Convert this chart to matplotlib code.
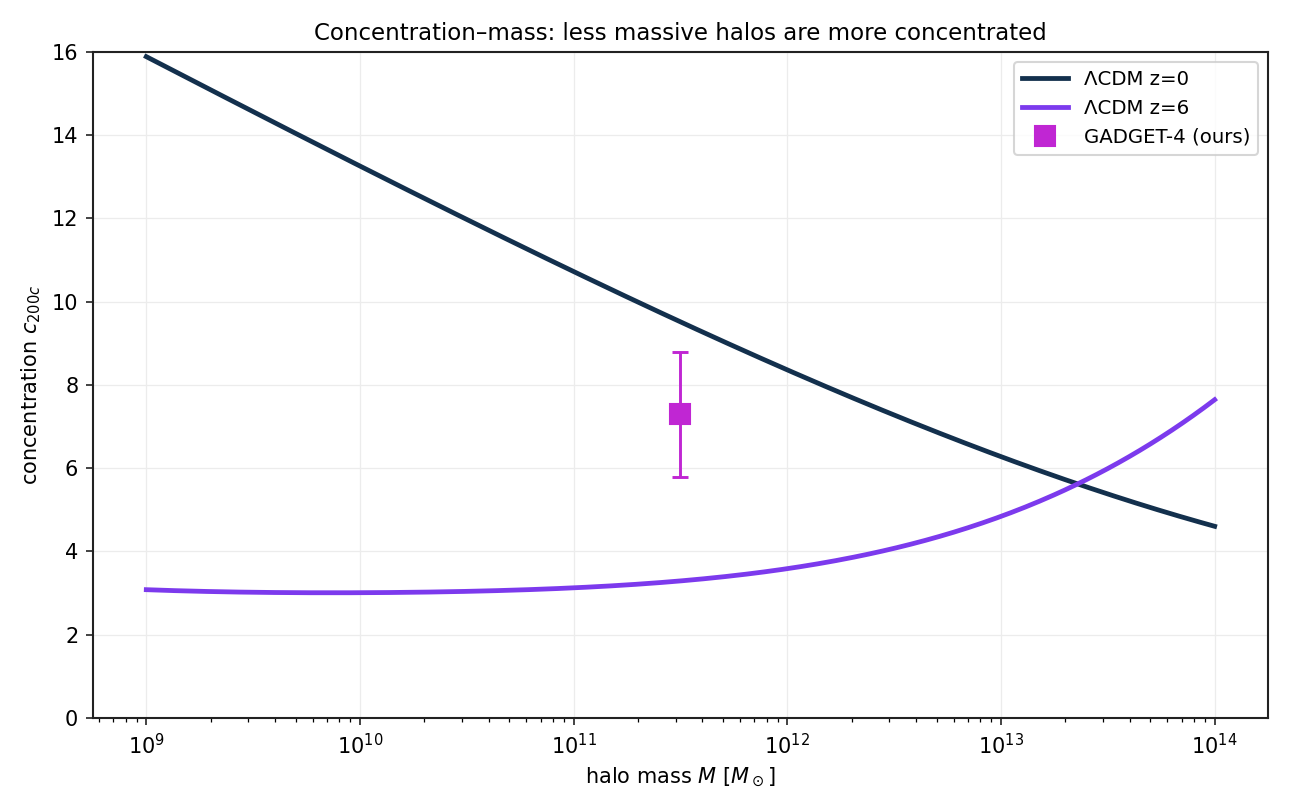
import numpy as np
import matplotlib
matplotlib.use("Agg")
import matplotlib.pyplot as plt

# Data
log_mass = [9.0, 9.5, 10.0, 10.5, 11.0, 11.5, 12.0, 12.5, 13.0, 13.5, 14.0]
c_z0 = [15.88, 14.58, 13.26, 11.99, 10.71, 9.48, 8.37, 7.33, 6.29, 5.32, 4.63]
c_z6 = [3.08, 3.03, 3.00, 3.04, 3.12, 3.31, 3.59, 4.09, 4.78, 6.05, 7.63]
ours_mass = [3.16e11]
ours_c = [7.3]
ours_err = [1.5]

# smooth curves through read points (polynomial in log-mass)
lm_fine = np.linspace(9, 14, 300)
fit0 = np.polyfit(log_mass, c_z0, 4)
fit6 = np.polyfit(log_mass, c_z6, 4)
mass_fine = 10 ** lm_fine

fig = plt.figure(figsize=(8.6, 5.4), dpi=150)
ax = fig.add_axes([0.072, 0.1136, 0.911, 0.8222])

ax.plot(mass_fine, np.polyval(fit0, lm_fine), color="#13304d", lw=2.3, label="ΛCDM z=0")
ax.plot(mass_fine, np.polyval(fit6, lm_fine), color="#7c3aed", lw=2.3, label="ΛCDM z=6")
ax.errorbar(ours_mass, ours_c, yerr=ours_err, fmt="none", ecolor="#c026d3",
            elinewidth=1.4, capsize=4, capthick=1.4, zorder=4)
ax.plot(ours_mass, ours_c, "s", color="#c026d3", ms=9.5, zorder=5,
        label="GADGET-4 (ours)", linestyle="none")

ax.set_xscale("log")
ax.set_ylim(0, 16)
ax.set_yticks(np.arange(0, 17, 2))
ax.grid(True, which="major", color="#ececec", lw=0.6)
ax.set_axisbelow(True)
for s in ax.spines.values():
    s.set_color("#222222")
    s.set_linewidth(1.0)
ax.tick_params(colors="#222222", labelcolor="black")

ax.set_xlabel(r"halo mass $M$ [$M_\odot$]")
ax.set_ylabel(r"concentration $c_{200c}$")
ax.set_title("Concentration–mass: less massive halos are more concentrated", fontsize=11)
ax.legend(loc="upper right", fontsize=9.5, handlelength=2.3)

fig.savefig("out.png", dpi=150)
